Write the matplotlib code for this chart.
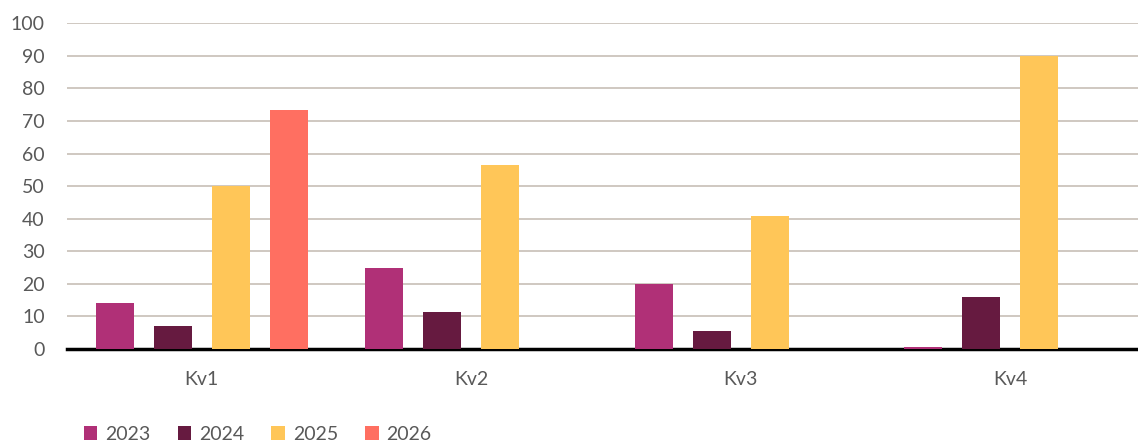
import matplotlib
matplotlib.use("Agg")
import matplotlib.pyplot as plt
import numpy as np
from matplotlib.patches import Patch

categories = ["Kv1", "Kv2", "Kv3", "Kv4"]
series_names = ["2023", "2024", "2025", "2026"]
v2023 = [14, 25, 20, 0.7]
v2024 = [7, 11.4, 5.5, 16]
v2025 = [50, 56.6, 40.9, 90]
v2026 = [73.3, 0, 0, 0]
yticks = [0, 10, 20, 30, 40, 50, 60, 70, 80, 90, 100]

colors = ["#B03077", "#661A40", "#FFC658", "#FF6F61"]
text_color = "#595959"

plt.rcParams['font.family'] = ['Lato', 'DejaVu Sans']

W, H = 1138, 442
fig = plt.figure(figsize=(W / 100, H / 100), dpi=100)
ax = fig.add_axes([67 / W, (H - 349) / H, 1 - 67 / W, (349 - 23.3) / H])

x = np.arange(len(categories))
offsets = np.array([-1.5, -0.5, 0.5, 1.5]) * 0.215
width = 0.141
data = [v2023, v2024, v2025, v2026]
for i, (vals, c) in enumerate(zip(data, colors)):
    ax.bar(x + offsets[i], vals, width, color=c, zorder=3)

ax.set_ylim(0, 100)
ax.set_xlim(-0.5, 3 + (1138 - 1010) / 269.4)
ax.set_yticks(yticks)
ax.set_xticks(x)
ax.set_xticklabels(categories)
ax.tick_params(axis='both', length=0, labelsize=14, colors=text_color)
ax.tick_params(axis='y', pad=16)
ax.tick_params(axis='x', pad=16)
ax.yaxis.grid(True, color="#CBC4BC", linewidth=1.3, zorder=0)
for s in ["top", "right", "left"]:
    ax.spines[s].set_visible(False)
ax.spines["bottom"].set_color("black")
ax.spines["bottom"].set_linewidth(2.5)
ax.spines["bottom"].set_zorder(2)

handles = [Patch(facecolor=c, edgecolor='none') for c in colors]
leg = fig.legend(handles, series_names, loc='center left',
                 bbox_to_anchor=(76 / W, (H - 434) / H), ncol=4, frameon=False,
                 fontsize=14, handlelength=0.7, handleheight=0.7,
                 handletextpad=0.4, columnspacing=1.4, borderaxespad=0)
for t in leg.get_texts():
    t.set_color(text_color)

fig.savefig("out.png", dpi=100)
